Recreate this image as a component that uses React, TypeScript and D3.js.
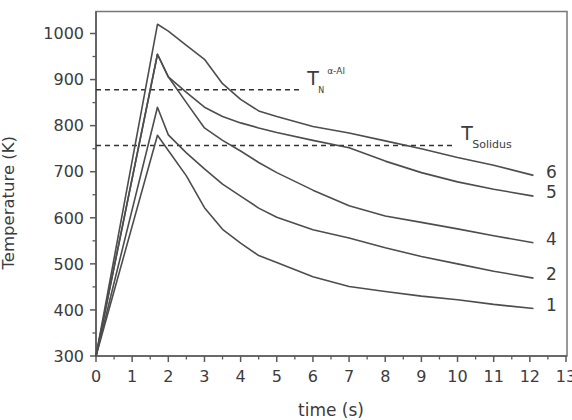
import React from 'react';
import * as d3 from 'd3';

// time samples shared by every curve (s)
const times = [0, 1.7, 2.0, 2.5, 3.0, 3.5, 4.0, 4.5, 5.0, 6.0, 7.0, 8.0, 9.0, 10.0, 11.0, 12.1];

// temperature (K) per curve
const curve1 = [300, 779, 746, 691, 622, 575, 545, 518, 503, 472, 451, 440, 430, 422, 412, 403];
const curve2 = [300, 840, 780, 741, 706, 673, 647, 621, 601, 574, 556, 535, 516, 500, 484, 469];
const curve4 = [300, 955, 906, 850, 795, 768, 745, 720, 698, 660, 626, 604, 590, 576, 561, 546];
const curve5 = [300, 955, 906, 872, 840, 820, 806, 795, 785, 768, 752, 723, 698, 678, 662, 647];
const curve6 = [300, 1020, 1005, 974, 944, 891, 857, 832, 820, 798, 784, 767, 750, 731, 714, 692];

const curves = [curve1, curve2, curve4, curve5, curve6];
const curveLabels = ['1', '2', '4', '5', '6'];

// dashed reference temperatures
const refValues = [878, 757];
const refEnds = [5.62, 9.88];
const refMain = ['T', 'T'];
const refSub = ['N', 'Solidus'];
const refSup = ['α-Al', ''];

const xTicks = d3.range(0, 14);
const yTicks = d3.range(300, 1001, 100);

const W = 572;
const H = 420;
const left = 96;
const right = 566;
const bottom = 356;
const top = 11.5;

export default function App() {
  const x = d3.scaleLinear().domain([0, 13]).range([left, right]);
  const y = d3.scaleLinear().domain([300, 1000]).range([bottom, 33.5]);

  const line = d3.line<number>()
    .x((_, i) => x(times[i]))
    .y(d => y(d));

  const xMinor = d3.range(0.5, 13, 1);
  const yMinor = d3.range(350, 1001, 100);

  const font = '"DejaVu Sans", sans-serif';
  const axisColor = '#5a5a5a';
  const textColor = '#3c3c3c';

  return (
    <svg width={W} height={H} style={{ position: 'absolute', left: 0, top: 0, background: '#fff' }}
      fontFamily={font}>
      {/* frame */}
      <rect x={left} y={top} width={right - left + 1} height={bottom - top}
        fill="none" stroke="#777" strokeWidth={1.5} />
      <line x1={left} x2={left} y1={top} y2={bottom} stroke={axisColor} strokeWidth={1.6} />
      <line x1={left} x2={right + 1} y1={bottom} y2={bottom} stroke={axisColor} strokeWidth={1.6} />

      {/* y axis */}
      {yTicks.map(t => (
        <g key={'y' + t}>
          <line x1={left - 6} x2={left} y1={y(t)} y2={y(t)} stroke={axisColor} strokeWidth={1.5} />
          <text x={left - 12} y={y(t)} dy="0.36em" textAnchor="end" fontSize={16} fill={textColor}>{t}</text>
        </g>
      ))}
      {yMinor.map(t => (
        <line key={'ym' + t} x1={left - 3.5} x2={left} y1={y(t)} y2={y(t)} stroke={axisColor} strokeWidth={1.3} />
      ))}

      {/* x axis */}
      {xTicks.map(t => (
        <g key={'x' + t}>
          <line x1={x(t)} x2={x(t)} y1={bottom} y2={bottom + 6} stroke={axisColor} strokeWidth={1.5} />
          <text x={x(t)} y={bottom + 26} textAnchor="middle" fontSize={16} fill={textColor}>{t}</text>
        </g>
      ))}
      {xMinor.map(t => (
        <line key={'xm' + t} x1={x(t)} x2={x(t)} y1={bottom} y2={bottom + 3.5} stroke={axisColor} strokeWidth={1.3} />
      ))}

      {/* axis titles */}
      <text x={x(6.5)} y={416} textAnchor="middle" fontSize={17} fill={textColor}>time (s)</text>
      <text transform={`translate(14,${(y(300) + y(1000)) / 2 + 8}) rotate(-90)`} textAnchor="middle"
        fontSize={16.5} fill={textColor}>Temperature (K)</text>

      {/* reference lines */}
      {refValues.map((v, i) => (
        <g key={'ref' + i}>
          <line x1={left} x2={x(refEnds[i])} y1={y(v)} y2={y(v)} stroke="#333"
            strokeWidth={1.5} strokeDasharray="5,4" />
          <text x={x(refEnds[i]) + 8} y={y(v) - 5} fontSize={19} fill={textColor}>{refMain[i]}</text>
          <text x={x(refEnds[i]) + 19} y={y(v) + 3} fontSize={i === 0 ? 8 : 11} fill={textColor}>{refSub[i]}</text>
          {refSup[i] && (
            <text x={x(refEnds[i]) + 28} y={y(v) - 16} fontSize={9} fill={textColor}>{refSup[i]}</text>
          )}
        </g>
      ))}

      {/* curves */}
      {curves.map((c, i) => (
        <g key={'c' + i}>
          <path d={line(c) || ''} fill="none" stroke="#4d4d4d" strokeWidth={1.6} strokeLinejoin="round" />
          <text x={x(times[times.length - 1]) + 18} y={y(c[c.length - 1]) - 4} dy="0.36em"
            textAnchor="middle" fontSize={17} fill={textColor}>{curveLabels[i]}</text>
        </g>
      ))}
    </svg>
  );
}
